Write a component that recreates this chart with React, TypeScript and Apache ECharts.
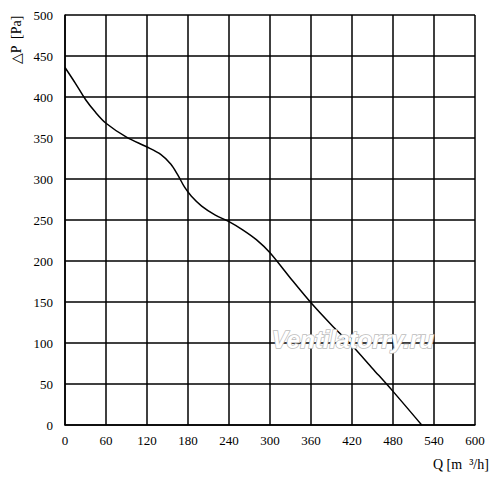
import React, { useEffect, useRef } from "react";
import * as echarts from "echarts";

const flowQ = [0, 15, 30, 45, 60, 90, 120, 140, 155, 165, 175, 185, 200, 220, 240, 260, 280, 300, 330, 360, 390, 420, 450, 480, 522];
const pressureP = [436, 417, 397, 381, 368, 351, 339, 330, 318, 305, 290, 279, 267, 256, 248, 238, 226, 210, 179, 149, 122, 97, 69, 41, 0];
const xTicks = [0, 60, 120, 180, 240, 300, 360, 420, 480, 540, 600];
const yTicks = [0, 50, 100, 150, 200, 250, 300, 350, 400, 450, 500];

export default function App() {
  const ref = useRef<HTMLDivElement>(null);
  useEffect(() => {
    if (!ref.current) return;
    const chart = echarts.init(ref.current, null, { renderer: "svg" });
    const font = "'Liberation Serif', 'DejaVu Serif', serif";
    const nameFont = "14px 'Liberation Serif', 'DejaVu Serif', serif";
    chart.setOption({
      animation: false,
      backgroundColor: "#fff",
      grid: { left: 65, top: 15, right: 25, bottom: 57, containLabel: false },
      xAxis: {
        type: "value",
        min: xTicks[0],
        max: xTicks[xTicks.length - 1],
        interval: 60,
        axisLine: { show: true, lineStyle: { color: "#000", width: 1.5 } },
        axisTick: { show: false },
        splitLine: { show: true, lineStyle: { color: "#000", width: 1.5 } },
        axisLabel: { color: "#000", fontSize: 13, fontFamily: font, margin: 9 },
      },
      yAxis: {
        type: "value",
        min: yTicks[0],
        max: yTicks[yTicks.length - 1],
        interval: 50,
        axisLine: { show: true, lineStyle: { color: "#000", width: 1.5 } },
        axisTick: { show: false },
        splitLine: { show: true, lineStyle: { color: "#000", width: 1.5 } },
        axisLabel: { color: "#000", fontSize: 13, fontFamily: font, margin: 12 },
      },
      graphic: [
        {
          type: "text",
          left: 271,
          top: 327,
          silent: true,
          style: {
            text: "Ventilatorry.ru",
            font: "italic bold 24px 'Liberation Sans', Arial, sans-serif",
            fill: "#fff",
            stroke: "#bcbcbc",
            lineWidth: 1.5,
          },
          z: 100,
        },
        {
          type: "text",
          x: 9,
          y: 64,
          rotation: Math.PI / 2,
          style: {
            text: "△P  [Pa]",
            font: nameFont,
            fill: "#000",
          },
        },
        {
          type: "text",
          x: 433,
          y: 457,
          style: {
            text: "Q [m  ³/h]",
            font: nameFont,
            fill: "#000",
          },
        },
      ],
      series: [
        {
          type: "line",
          data: flowQ.map((q, i) => [q, pressureP[i]]),
          smooth: 0.3,
          showSymbol: false,
          lineStyle: { color: "#000", width: 1.5 },
          z: 5,
        },
      ],
    });
    return () => chart.dispose();
  }, []);
  return (
    <div
      ref={ref}
      style={{ position: "fixed", left: 0, top: 0, width: 500, height: 482 }}
    />
  );
}
